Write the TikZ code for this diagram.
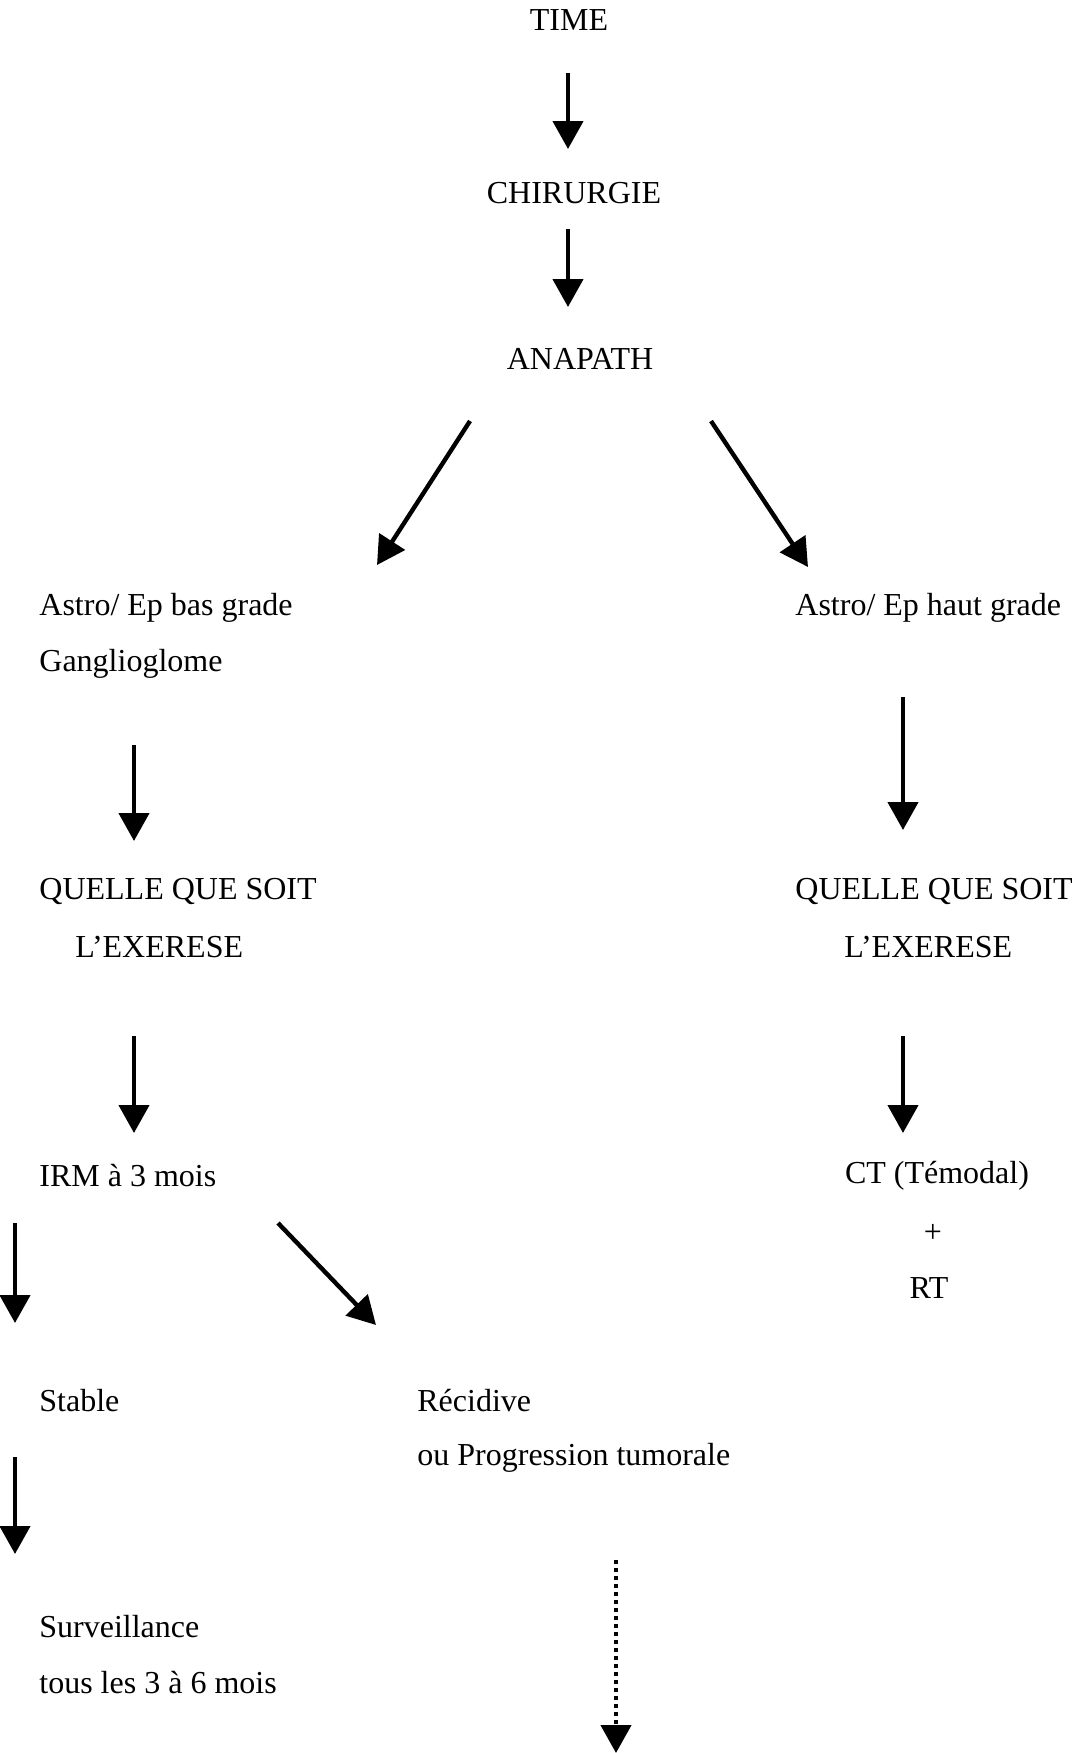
\documentclass[tikz,border=0pt]{standalone}
\usepackage{fontspec}
\setmainfont{Liberation Serif}
\usepackage{tikz}
\usetikzlibrary{arrows.meta}

\tikzset{
    lab/.style={inner sep=0pt, font=\fontsize{16}{19}\selectfont},
    flow/.style={line width=2.2pt, -{Triangle[width=15pt,length=14pt]}},
    flowdot/.style={flow, dash pattern=on 2pt off 2pt}
}

\begin{document}
\begin{tikzpicture}[x=0.5pt,y=-0.5pt]
    \useasboundingbox (0,0) rectangle (1080,1753);
    % centre column
    \node[lab] (time) at (569,20) {TIME};
    \node[lab] (chir) at (574,193) {CHIRURGIE};
    \node[lab] (anap) at (580,359) {ANAPATH};
    % left branch
    \node[lab, anchor=west] (bas) at (39,608) {Astro/ Ep bas grade};
    \node[lab, anchor=west] (gang) at (39,664) {Ganglioglome};
    \node[lab, anchor=west] (qqsl) at (39,891) {QUELLE QUE SOIT};
    \node[lab, anchor=west] (exl) at (75,947) {L’EXERESE};
    \node[lab, anchor=west] (irm) at (39,1176) {IRM à 3 mois};
    \node[lab, anchor=west] (stab) at (39,1401) {Stable};
    \node[lab, anchor=west] (surv) at (39,1627) {Surveillance};
    \node[lab, anchor=west] (tous) at (39,1683) {tous les 3 à 6 mois};
    \node[lab, anchor=west] (recid) at (417,1401) {Récidive};
    \node[lab, anchor=west] (prog) at (417,1458) {ou Progression tumorale};
    % right branch
    \node[lab, anchor=west] (haut) at (795,608) {Astro/ Ep haut grade};
    \node[lab, anchor=west] (qqsr) at (795,891) {QUELLE QUE SOIT};
    \node[lab, anchor=west] (exr) at (844,947) {L’EXERESE};
    \node[lab] (ct) at (937,1176) {CT (Témodal)};
    \node[lab] (plus) at (933,1233) {+};
    \node[lab] (rt) at (929,1288) {RT};

    % arrow ends
    \foreach \n/\xa/\ya/\xb/\yb in {
        a/568/73/568/149, b/568/229/568/307,
        c/470/421/377/565, d/711/421/808/567,
        e/134/745/134/841, f/134/1036/134/1133,
        g/15/1223/15/1323, h/278/1223/376/1325,
        i/15/1457/15/1554,
        j/903/697/903/830, k/903/1036/903/1133} {
        \coordinate (\n1) at (\xa,\ya);
        \coordinate (\n2) at (\xb,\yb);
        \draw[flow] (\n1) -- (\n2);
    }
    \coordinate (z1) at (616,1560);
    \coordinate (z2) at (616,1753);
    \draw[flowdot] (z1) -- (z2);
\end{tikzpicture}
\end{document}
